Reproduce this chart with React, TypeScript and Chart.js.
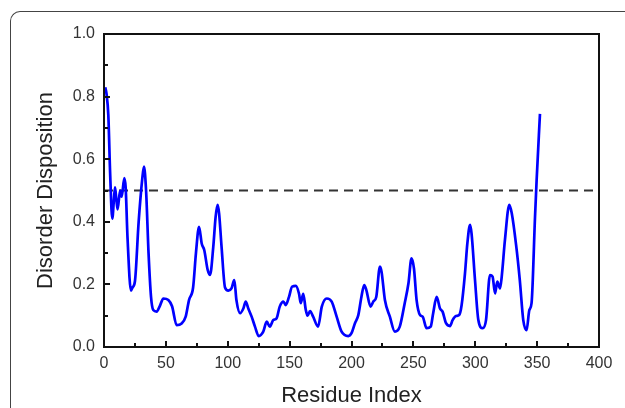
import React, { useEffect, useRef } from "react";
import { Chart, registerables } from "chart.js";

Chart.register(...registerables);

const residueIndex: number[] = [
  1, 2, 3.5, 5, 6.7, 8, 8.9, 10, 11, 13, 14.3, 16.4, 17.5, 19, 21.8, 23, 25, 28, 31, 32.3,
  34, 36, 38, 39.8, 42.6, 45, 48, 52, 55, 58.7, 62.7, 66, 68.7, 72, 74.3, 76.8, 79, 81, 83.8, 85.7,
  88.3, 90.2, 91.8, 93, 95, 97.8, 100.5, 103, 105.3, 107, 110, 112.6, 114.5, 116.6, 119.3, 122, 125, 128.7, 131.5, 134,
  136.8, 139.5, 142, 145, 146.8, 149.5, 152, 155, 157.6, 159, 161, 163, 164.5, 166.5, 169, 173, 176, 180, 184, 188,
  192, 197.4, 200, 202.8, 205.5, 208, 210.3, 212, 215.4, 217.6, 220, 223, 224.3, 227, 231, 235, 239, 243, 246, 248.5,
  250.5, 252.6, 255.4, 257.5, 260.7, 264, 266, 268.8, 271.5, 273.6, 276.4, 279.6, 281.7, 284.4, 287, 289, 291.7, 293.6, 295.8, 297,
  299.8, 302.5, 306, 308.7, 311.9, 314, 316, 317.8, 320, 321.4, 324, 327.5, 329.5, 333, 336, 338.8, 341.5, 343.7, 345.5, 348.3,
  349.6, 352.3,
];

const disorder: number[] = [
  0.83, 0.81, 0.74, 0.55, 0.41, 0.47, 0.51, 0.47, 0.44, 0.5, 0.48, 0.54, 0.51, 0.35, 0.18, 0.19, 0.21, 0.4, 0.54, 0.576,
  0.5, 0.3, 0.16, 0.118, 0.113, 0.13, 0.155, 0.15, 0.13, 0.07, 0.075, 0.097, 0.15, 0.19, 0.3, 0.384, 0.33, 0.31, 0.246, 0.23,
  0.32, 0.416, 0.454, 0.427, 0.32, 0.19, 0.18, 0.187, 0.214, 0.15, 0.108, 0.123, 0.145, 0.123, 0.097, 0.065, 0.035, 0.049, 0.081, 0.065,
  0.086, 0.092, 0.129, 0.145, 0.134, 0.16, 0.193, 0.195, 0.17, 0.14, 0.17, 0.12, 0.1, 0.115, 0.097, 0.065, 0.129, 0.155, 0.145, 0.097,
  0.049, 0.035, 0.044, 0.076, 0.102, 0.16, 0.198, 0.182, 0.129, 0.145, 0.16, 0.257, 0.24, 0.15, 0.097, 0.049, 0.065, 0.14, 0.203, 0.283,
  0.25, 0.15, 0.102, 0.097, 0.06, 0.065, 0.108, 0.16, 0.123, 0.113, 0.076, 0.067, 0.086, 0.099, 0.102, 0.134, 0.235, 0.33, 0.39, 0.363,
  0.214, 0.086, 0.06, 0.086, 0.23, 0.225, 0.171, 0.209, 0.187, 0.225, 0.342, 0.454, 0.427, 0.326, 0.214, 0.086, 0.054, 0.118, 0.14, 0.416,
  0.533, 0.745,
];

const threshold = 0.5;
const xTickValues: number[] = [0, 50, 100, 150, 200, 250, 300, 350, 400];
const yTickValues: number[] = [0, 0.2, 0.4, 0.6, 0.8, 1.0];

const frameAndTicks = {
  id: "frameAndTicks",
  beforeDatasetsDraw(chart: any) {
    const { ctx, chartArea, scales } = chart;
    const y = scales.y.getPixelForValue(threshold);
    ctx.save();
    ctx.strokeStyle = "#333333";
    ctx.lineWidth = 2;
    ctx.setLineDash([9, 6]);
    ctx.beginPath();
    ctx.moveTo(chartArea.left, y);
    ctx.lineTo(chartArea.right, y);
    ctx.stroke();
    ctx.restore();
  },
  afterDatasetsDraw(chart: any) {
    const { ctx, chartArea, scales } = chart;
    const { left, right, top, bottom } = chartArea;
    ctx.save();
    ctx.strokeStyle = "#111111";
    ctx.lineWidth = 2;
    ctx.strokeRect(left, top, right - left, bottom - top);
    ctx.beginPath();
    for (let v = 25; v < 400; v += 25) {
      const px = Math.round(scales.x.getPixelForValue(v));
      const len = v % 50 === 0 ? 6 : 4;
      ctx.moveTo(px, bottom);
      ctx.lineTo(px, bottom - len);
    }
    for (let i = 1; i < 10; i++) {
      const py = Math.round(scales.y.getPixelForValue(i / 10));
      const len = i % 2 === 0 ? 6 : 4;
      ctx.moveTo(left, py);
      ctx.lineTo(left + len, py);
    }
    ctx.stroke();
    ctx.restore();
  },
};

export default function App() {
  const canvasRef = useRef<HTMLCanvasElement | null>(null);

  useEffect(() => {
    document.body.style.margin = "0";
    document.body.style.overflow = "hidden";
    const canvas = canvasRef.current;
    if (!canvas) return;
    const points = residueIndex.map((x, i) => ({ x, y: disorder[i] }));
    const chart = new Chart(canvas, {
      type: "line",
      data: {
        datasets: [
          {
            data: points,
            borderColor: "#0000ff",
            borderWidth: 2.7,
            pointRadius: 0,
            cubicInterpolationMode: "monotone",
            fill: false,
          },
        ],
      },
      options: {
        animation: false,
        responsive: false,
        maintainAspectRatio: false,
        layout: { padding: { left: 0, top: 34, right: 26, bottom: 0 } },
        plugins: { legend: { display: false }, tooltip: { enabled: false } },
        scales: {
          x: {
            type: "linear",
            min: 0,
            max: 400,
            afterFit: (s: any) => {
              s.height = 61;
            },
            afterBuildTicks: (s: any) => {
              s.ticks = xTickValues.map((v) => ({ value: v }));
            },
            grid: { display: false, drawTicks: false },
            border: { display: false },
            ticks: {
              padding: 7,
              color: "#333333",
              font: { family: "Liberation Sans, Arial, sans-serif", size: 16 },
              callback: (v: any) => String(v),
            },
            title: {
              display: true,
              text: "Residue Index",
              color: "#222222",
              font: { family: "Liberation Sans, Arial, sans-serif", size: 22, lineHeight: 1 },
              padding: { top: 0, bottom: 1 },
            },
          },
          y: {
            type: "linear",
            min: 0,
            max: 1,
            afterFit: (s: any) => {
              s.width = 104;
            },
            afterBuildTicks: (s: any) => {
              s.ticks = yTickValues.map((v) => ({ value: v }));
            },
            grid: { display: false, drawTicks: false },
            border: { display: false },
            ticks: {
              padding: 9,
              color: "#333333",
              font: { family: "Liberation Sans, Arial, sans-serif", size: 16 },
              callback: (v: any) => Number(v).toFixed(1),
            },
            title: {
              display: true,
              text: "Disorder Disposition",
              color: "#222222",
              font: { family: "Liberation Sans, Arial, sans-serif", size: 22, lineHeight: 1 },
              padding: { top: 35, bottom: 0 },
            },
          },
        },
      },
      plugins: [frameAndTicks],
    });
    return () => chart.destroy();
  }, []);

  return (
    <div style={{ position: "relative", width: 625, height: 408, overflow: "hidden", background: "#fff" }}>
      <canvas ref={canvasRef} width={625} height={408} style={{ position: "absolute", left: 0, top: 0 }} />
      <div
        style={{
          position: "absolute",
          left: 10,
          top: 11,
          width: 640,
          height: 420,
          borderTop: "1.5px solid #444",
          borderLeft: "1.5px solid #444",
          borderTopLeftRadius: 10,
          pointerEvents: "none",
        }}
      />
    </div>
  );
}
